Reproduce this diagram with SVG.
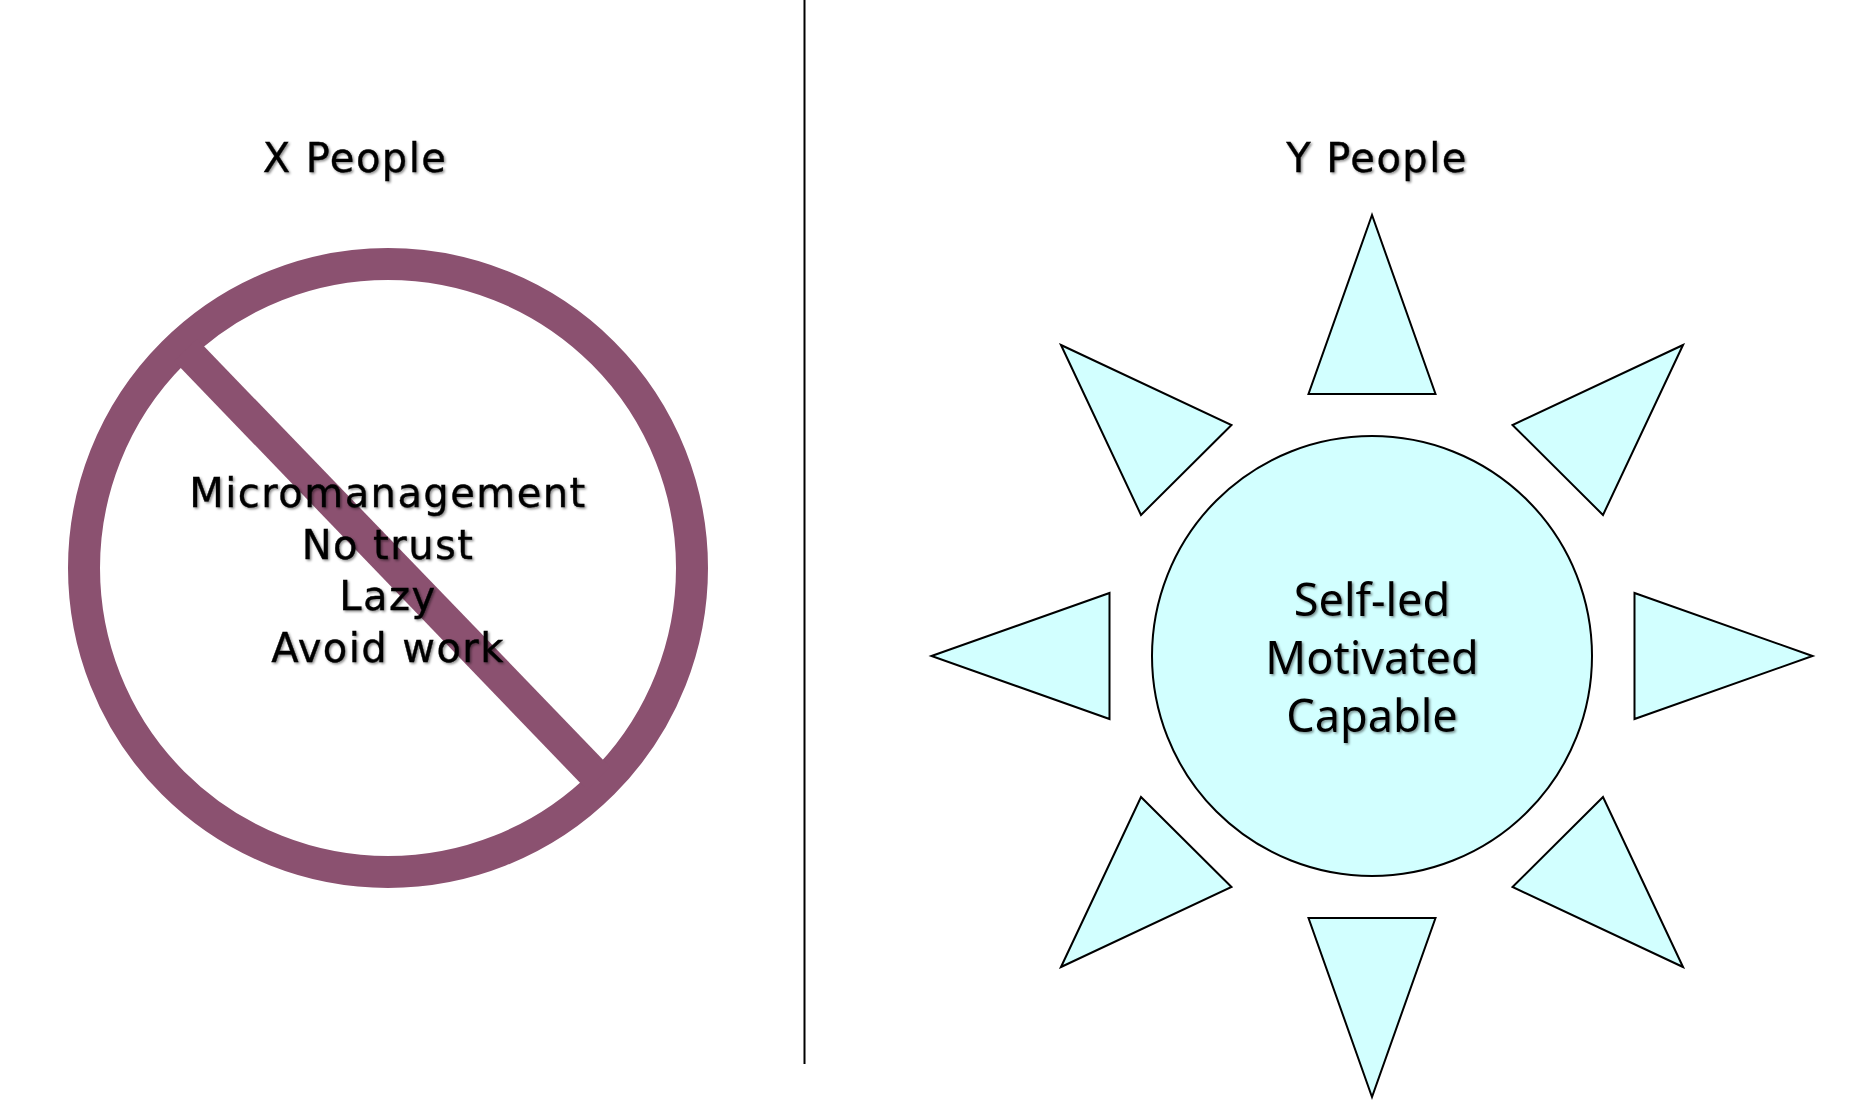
<svg xmlns="http://www.w3.org/2000/svg" width="1860" height="1120" viewBox="0 0 1860 1120">
<style>
.t{font-family:"DejaVu Sans","Liberation Sans",sans-serif;font-size:40px;letter-spacing:1.45px;fill:#000;stroke:#000;stroke-width:.35px;text-anchor:middle;filter:url(#sh)}
.s{font-family:"Noto Sans","Liberation Sans",sans-serif;font-size:45px;fill:#000;text-anchor:middle;filter:url(#sh)}
.ray{fill:#d2ffff;stroke:#000;stroke-width:2;stroke-linejoin:miter}
</style>
<defs>
<filter id="sh" x="-10%" y="-20%" width="120%" height="150%"><feDropShadow dx="1.5" dy="1.5" stdDeviation="1.2" flood-color="#000" flood-opacity="0.45"/></filter>
</defs>
<rect width="1860" height="1120" fill="#fff"/>
<g id="divider"><line x1="804.5" y1="0" x2="804.5" y2="1064" stroke="#000" stroke-width="2"/></g>
<g id="x-people">
<text class="t" x="355" y="171.5">X People</text>
<circle cx="388" cy="568" r="304" fill="none" stroke="#8b5170" stroke-width="32"/>
<polygon points="197,339 174,361 587,790 610,767" fill="#8b5170"/>
<text class="t" x="388" y="507">Micromanagement</text>
<text class="t" x="388" y="559">No trust</text>
<text class="t" x="388" y="610">Lazy</text>
<text class="t" x="388" y="661.5">Avoid work</text>
</g>
<g id="y-people">
<text class="t" x="1377" y="171.5">Y People</text>
<circle class="ray" cx="1372" cy="656" r="220"/>
<polygon class="ray" points="1372,215 1308.5,394 1435.5,394"/>
<polygon class="ray" points="1372,1097 1308.5,918 1435.5,918"/>
<polygon class="ray" points="1812.5,656 1634.5,593 1634.5,719"/>
<polygon class="ray" points="931.5,656 1109.5,593 1109.5,719"/>
<polygon class="ray" points="1683,345 1512.5,425 1603,515"/>
<polygon class="ray" points="1061,345 1231.5,425 1141,515"/>
<polygon class="ray" points="1683,967 1512.5,887 1603,797"/>
<polygon class="ray" points="1061,967 1231.5,887 1141,797"/>
<text class="s" x="1372" y="616">Self-led</text>
<text class="s" x="1372" y="674">Motivated</text>
<text class="s" x="1372" y="732">Capable</text>
</g>
</svg>
